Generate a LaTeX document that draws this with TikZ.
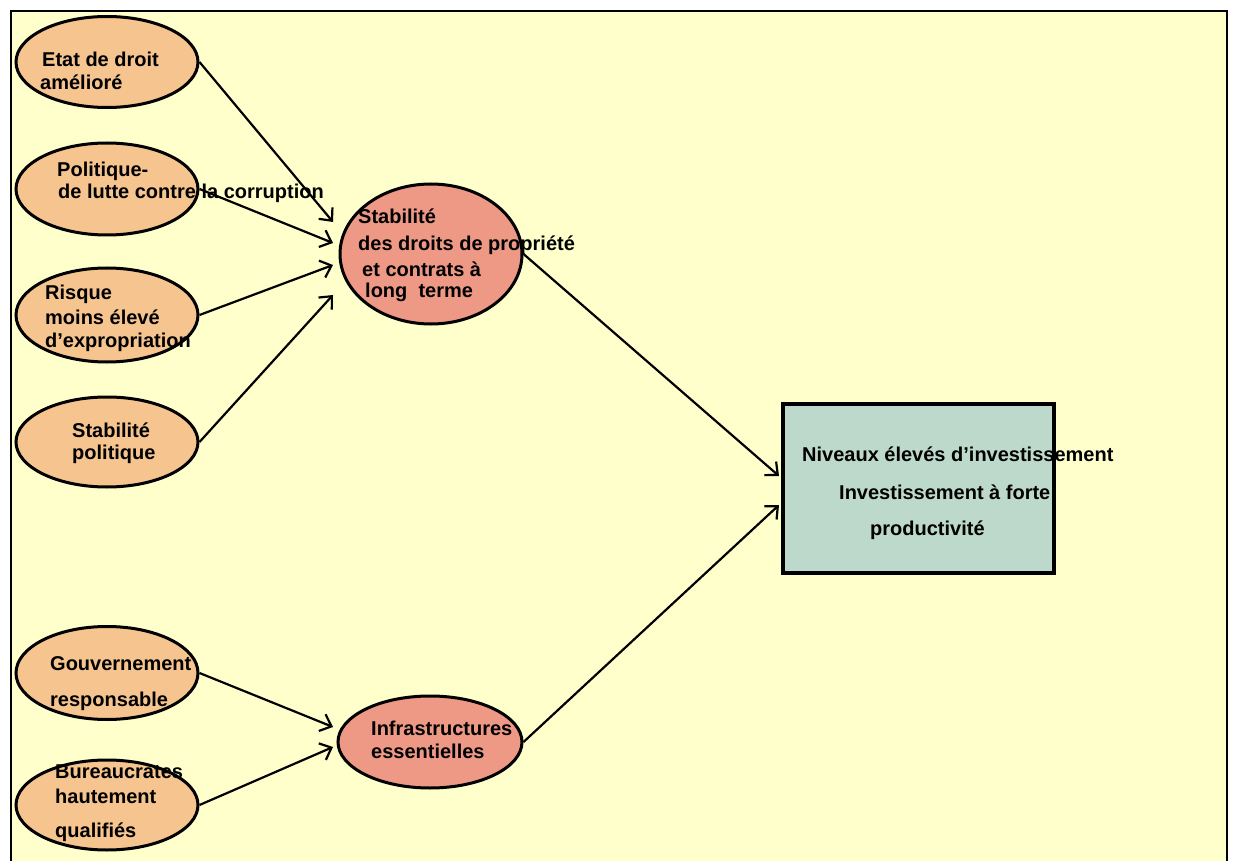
\documentclass[tikz,border=0pt]{standalone}
\usepackage{fontspec}
\setmainfont{Liberation Sans}
\usetikzlibrary{arrows.meta,shapes.geometric}
\definecolor{fondjaune}{HTML}{FFFFCC}
\definecolor{causeorange}{HTML}{F5C48F}
\definecolor{canalrose}{HTML}{EE9985}
\definecolor{effetvert}{HTML}{BDD9CB}
\begin{document}
\begin{tikzpicture}[x=1pt,y=-1pt,%
            cause/.style={shape=ellipse, draw, line width=3pt, fill=causeorange,
                          inner sep=0pt, minimum width=182pt, minimum height=91pt},
            canal/.style={cause, fill=canalrose},
            effet/.style={shape=rectangle, draw, line width=3.5pt, fill=effetvert,
                          inner sep=0pt, minimum width=271pt, minimum height=169pt},
            texte/.style={anchor=base west, inner sep=0pt,
                          font=\bfseries\fontsize{20}{24}\selectfont},
            fleche/.style={line width=2.2pt,
                           -{Straight Barb[length=10pt,width=18pt,line width=2.2pt]}}
        ]
        \useasboundingbox (0,0) rectangle (1235,861);
        \fill [fondjaune] (11,11) rectangle (1227,861);
        \draw [line width=2.5pt] (11,861) -- (11,11) -- (1227,11) -- (1227,861);

        \node [cause] (etat)   at (107,62)  {};
        \node [cause, minimum height=92pt] (politique) at (107,189) {};
        \node [cause, minimum height=94pt] (risque) at (107,315) {};
        \node [cause, minimum height=90pt] (stabpol) at (107,442) {};
        \node [cause, minimum height=93pt] (gouv)   at (107,673) {};
        \node [cause, minimum height=90pt] (bureau) at (107,805) {};

        \node [canal, minimum height=140pt] (droits) at (431,254) {};
        \node [canal, minimum width=184pt, minimum height=92pt] (infra) at (430,742) {};

        \node [effet] (invest) at (918.5,488.5) {};

        \coordinate (D1) at (333,222);
        \coordinate (D2) at (333,243);
        \coordinate (D3) at (333,265);
        \coordinate (D4) at (333,295);
        \coordinate (I1) at (333,727);
        \coordinate (I2) at (333,747);
        \coordinate (N1) at (779,476);
        \coordinate (N2) at (779,505);

        \draw [fleche] (etat.east) -- (D1);
        \draw [fleche] (politique.east) -- (D2);
        \draw [fleche] (risque.east) -- (D3);
        \draw [fleche] (stabpol.east) -- (D4);
        \draw [fleche] (gouv.east) -- (I1);
        \draw [fleche] (bureau.east) -- (I2);
        \draw [fleche] (droits.east) -- (N1);
        \draw [fleche] (infra.east) -- (N2);

        \node [texte] (etat-a) at (42,67) {Etat de droit};
        \node [texte] (etat-b) at (40,90) {amélioré};

        \node [texte] (politique-a) at (57,177) {Politique-};
        \node [texte] (politique-b) at (58,199) {de lutte contre la corruption};

        \node [texte] (risque-a) at (45,300) {Risque};
        \node [texte] (risque-b) at (45,324) {moins élevé};
        \node [texte] (risque-c) at (45,347) {d’expropriation};

        \node [texte] (stabpol-a) at (72,437) {Stabilité};
        \node [texte] (stabpol-b) at (72,459) {politique};

        \node [texte] (gouv-a) at (50,670) {Gouvernement};
        \node [texte] (gouv-b) at (50,706) {responsable};

        \node [texte] (bureau-a) at (55,778) {Bureaucrates};
        \node [texte] (bureau-b) at (55,803) {hautement};
        \node [texte] (bureau-c) at (55,837) {qualifiés};

        \node [texte] (droits-a) at (358,224) {Stabilité};
        \node [texte] (droits-b) at (358,251) {des droits de propriété};
        \node [texte] (droits-c) at (362,277) {et contrats à};
        \node [texte] (droits-d) at (365,298) {long\ \ terme};

        \node [texte] (infra-a) at (371,735) {Infrastructures};
        \node [texte] (infra-b) at (371,758) {essentielles};

        \node [texte] (invest-a) at (802,461) {Niveaux élevés d’investissement};
        \node [texte] (invest-b) at (839,499) {Investissement à forte};
        \node [texte] (invest-c) at (870,535) {productivité};
    \end{tikzpicture}
\end{document}
